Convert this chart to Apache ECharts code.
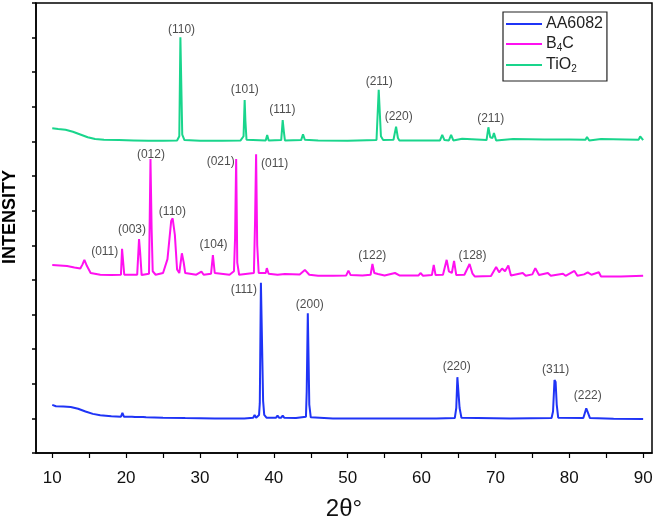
<!DOCTYPE html>
<html>
<head>
<meta charset="utf-8">
<script src="https://cdn.jsdelivr.net/npm/echarts@6/dist/echarts.min.js"></script>
<style>
  html, body { margin: 0; padding: 0; background: #fff; }
  #chart { width: 661px; height: 522px; }
</style>
</head>
<body>
<div id="chart"></div>
<script>
// 2θ (deg) / intensity (offset, arbitrary units) pairs
const aa6082 = [
  [10.0, 1.39], [10.5, 1.35], [11.5, 1.34], [12.5, 1.33], [13.5, 1.28], [14.5, 1.2], [15.5, 1.13],
  [16.5, 1.09], [18, 1.06], [19.3, 1.05], [19.5, 1.16], [19.7, 1.05], [20.8, 1.05], [21.0, 1.09],
  [21.2, 1.04], [22.3, 1.04], [22.5, 1.07], [22.7, 1.03], [25, 1.02], [28, 1.01], [32, 1.0], [36, 1.0],
  [37.2, 1.02], [37.4, 1.1], [37.6, 1.02], [38.0, 1.1], [38.1, 1.44], [38.25, 4.92], [38.45, 4.9],
  [38.55, 1.5], [38.7, 1.1], [39.0, 1.02], [40.3, 1.02], [40.5, 1.08], [40.7, 1.02], [41.0, 1.02],
  [41.2, 1.08], [41.4, 1.02], [43, 1.01], [44.35, 1.05], [44.45, 1.77], [44.6, 4.04], [44.7, 2.77],
  [44.8, 1.4], [45.0, 1.03], [48, 1.0], [55, 1.0], [62, 1.0], [64.5, 1.01], [64.7, 1.3], [64.85, 2.19],
  [65.0, 2.15], [65.15, 1.3], [65.4, 1.02], [72, 1.0], [77.6, 1.01], [77.8, 1.2], [78.0, 2.11],
  [78.15, 2.05], [78.3, 1.4], [78.5, 1.02], [81.9, 1.01], [82.1, 1.15], [82.3, 1.29], [82.5, 1.18],
  [82.8, 1.01], [86, 0.99], [90.0, 0.98]
]

const b4c = [
  [10.0, 5.43], [11, 5.42], [12, 5.40], [13, 5.36], [13.8, 5.33], [14.1, 5.45], [14.35, 5.58], [14.7, 5.4],
  [15.2, 5.2], [16.5, 5.15], [18, 5.14], [19.3, 5.15], [19.45, 5.9], [19.6, 5.85], [19.75, 5.15],
  [21.5, 5.15], [21.75, 6.18], [21.9, 5.8], [22.1, 5.14], [23.1, 5.18], [23.3, 8.49], [23.45, 6.5],
  [23.6, 5.25], [24, 5.15], [25.0, 5.2], [25.6, 5.6], [26.1, 6.7], [26.3, 6.78], [26.6, 6.3], [26.9, 5.3],
  [27.2, 5.2], [27.55, 5.77], [27.8, 5.5], [28.0, 5.2], [29.5, 5.15], [30.2, 5.24], [30.5, 5.15],
  [31.5, 5.18], [31.75, 5.72], [32.0, 5.2], [34.0, 5.15], [34.6, 5.25], [34.75, 6.2], [34.9, 8.49],
  [35.05, 5.5], [35.3, 5.15], [37.3, 5.2], [37.45, 6.6], [37.6, 8.63], [37.75, 6.0], [37.95, 5.2],
  [38.9, 5.2], [39.05, 5.34], [39.3, 5.18], [40.5, 5.15], [41.5, 5.17], [43.5, 5.16], [44.2, 5.29],
  [44.8, 5.15], [46, 5.12], [48, 5.12], [49.8, 5.13], [50.1, 5.27], [50.4, 5.14], [52, 5.13],
  [53.1, 5.15], [53.35, 5.46], [53.6, 5.2], [54.1, 5.17], [55, 5.13], [56.4, 5.2], [57, 5.13],
  [59.6, 5.13], [59.85, 5.2], [60.2, 5.12], [61.4, 5.14], [61.65, 5.43], [61.9, 5.14], [62.9, 5.15],
  [63.4, 5.58], [63.7, 5.25], [64.1, 5.2], [64.4, 5.55], [64.7, 5.14], [65.8, 5.15], [66.5, 5.46],
  [66.9, 5.18], [67.2, 5.1], [69.4, 5.11], [70.1, 5.37], [70.5, 5.22], [70.9, 5.33], [71.3, 5.25],
  [71.75, 5.42], [72.1, 5.13], [73.7, 5.2], [74.1, 5.12], [75.0, 5.16], [75.4, 5.34], [75.9, 5.14],
  [77.1, 5.2], [77.5, 5.12], [79.15, 5.18], [79.5, 5.12], [80.7, 5.26], [81.1, 5.12], [82.0, 5.16],
  [82.5, 5.22], [83.0, 5.15], [84.0, 5.22], [84.3, 5.1], [87, 5.1], [90.0, 5.12]
]

const tio2 = [
  [10.0, 9.38], [10.8, 9.36], [11.8, 9.34], [12.8, 9.28], [13.8, 9.2], [14.8, 9.12], [15.8, 9.07],
  [17, 9.05], [19, 9.04], [21, 9.03], [23, 9.02], [25, 9.02], [26.9, 9.03], [27.2, 9.15], [27.35, 12.01],
  [27.5, 12.0], [27.6, 9.2], [27.9, 9.04], [30, 9.02], [33, 9.02], [35.5, 9.03], [35.9, 9.15],
  [36.05, 10.2], [36.15, 9.6], [36.3, 9.05], [38.9, 9.03], [39.1, 9.19], [39.3, 9.03], [41.0, 9.04],
  [41.2, 9.62], [41.35, 9.3], [41.5, 9.03], [43.7, 9.04], [43.95, 9.21], [44.2, 9.05], [46, 9.03],
  [50, 9.02], [53.9, 9.04], [54.2, 10.49], [54.35, 10.45], [54.5, 9.15], [54.8, 9.04], [56.2, 9.05],
  [56.55, 9.43], [56.8, 9.1], [57.0, 9.03], [62.5, 9.03], [62.8, 9.19], [63.1, 9.04], [63.7, 9.03],
  [64.0, 9.19], [64.3, 9.03], [65.5, 9.08], [65.7, 9.03], [68.8, 9.04], [69.05, 9.41], [69.3, 9.12],
  [69.6, 9.1], [69.8, 9.24], [70.1, 9.03], [72.4, 9.07], [72.6, 9.02], [76.6, 9.06], [76.8, 9.02],
  [80.0, 9.06], [80.2, 9.02], [82.2, 9.05], [82.4, 9.13], [82.7, 9.03], [84.3, 9.07], [84.5, 9.02],
  [87.6, 9.06], [87.8, 9.02], [89.4, 9.05], [89.6, 9.15], [90.0, 9.04]
]

// Miller index labels: text, 2θ, intensity (label centre)
const peakText = ['(110)', '(101)', '(111)', '(211)', '(220)', '(211)',
  '(012)', '(021)', '(011)', '(110)', '(003)', '(011)', '(104)', '(122)', '(128)',
  '(111)', '(200)', '(220)', '(311)', '(222)']
const peakX = [27.5, 36.07, 41.15, 54.27, 56.9, 69.37,
  23.36, 32.8, 40.1, 26.27, 20.8, 17.1, 31.84, 53.33, 66.9,
  35.94, 44.87, 64.76, 78.15, 82.5]
const peakY = [12.22, 10.49, 9.91, 10.72, 9.71, 9.66,
  8.62, 8.42, 8.35, 6.97, 6.45, 5.82, 6.01, 5.71, 5.71,
  4.71, 4.29, 2.49, 2.41, 1.65]

const xLabelTicks = [10, 20, 30, 40, 50, 60, 70, 80, 90]
const xTicks = [10, 15, 20, 25, 30, 35, 40, 45, 50, 55, 60, 65, 70, 75, 80, 85, 90]

const FONT = '"Liberation Sans", Arial, sans-serif'
const BLUE = '#1f34f6'
const MAGENTA = '#ff10f0'
const GREEN = '#19d58c'

const chart = echarts.init(document.getElementById('chart'), null, { renderer: 'canvas' })

const lineSeries = (name, data, color) => ({
  name,
  type: 'line',
  data,
  symbol: 'none',
  showSymbol: false,
  color,
  lineStyle: { color, width: 2 },
  z: 3
})

chart.setOption({
  animation: false,
  backgroundColor: '#fff',
  textStyle: { fontFamily: FONT },
  grid: {
    left: 36,
    right: 9,
    top: 3,
    bottom: 69,
    show: true,
    borderColor: '#000',
    borderWidth: 1.5,
    containLabel: false,
    outerBoundsMode: 'none'
  },
  legend: {
    data: ['AA6082', 'B4C', 'TiO2'],
    orient: 'vertical',
    left: 503,
    top: 12,
    padding: [4, 4, 7, 3],
    itemGap: 4,
    itemWidth: 36,
    itemHeight: 2,
    icon: 'rect',
    borderColor: '#222',
    borderWidth: 1.2,
    backgroundColor: '#fff',
    formatter: (name) => {
      if (name === 'B4C') return '{n|B}{s|4}{n|C}'
      if (name === 'TiO2') return '{n|TiO}{s|2}'
      return '{n|' + name + '}'
    },
    textStyle: {
      color: '#222',
      fontFamily: FONT,
      fontSize: 16,
      padding: [0, 0, 0, -1],
      rich: {
        n: { fontSize: 16, fontFamily: FONT, color: '#222', lineHeight: 18 },
        s: { fontSize: 10, fontFamily: FONT, color: '#222', verticalAlign: 'bottom', lineHeight: 10 }
      }
    }
  },
  graphic: [{
    type: 'text',
    x: 10,
    y: 217,
    rotation: Math.PI / 2,
    style: {
      text: 'INTENSITY',
      fontFamily: FONT,
      fontSize: 18,
      fontWeight: 'bold',
      fill: '#000',
      align: 'center',
      verticalAlign: 'middle'
    }
  }],
  xAxis: {
    type: 'value',
    min: 7.8,
    max: 91.2,
    name: '2θ°',
    nameLocation: 'middle',
    nameGap: 46,
    nameTextStyle: { fontSize: 24, fontFamily: FONT, color: '#111', lineHeight: 20 },
    splitLine: { show: false },
    axisLine: { show: true, onZero: false, lineStyle: { color: '#000', width: 1.5 } },
    axisTick: { show: true, inside: false, length: 5, customValues: xTicks, lineStyle: { color: '#000', width: 1.2 } },
    axisLabel: { show: true, customValues: xLabelTicks, margin: 17, fontSize: 17, color: '#111', fontFamily: FONT }
  },
  yAxis: {
    type: 'value',
    min: 0,
    max: 13,
    interval: 1,
    splitLine: { show: false },
    axisLine: { show: true, lineStyle: { color: '#000', width: 1.5 } },
    axisTick: { show: true, inside: false, length: 4, lineStyle: { color: '#000', width: 1.5 } },
    axisLabel: { show: false }
  },
  series: [
    lineSeries('AA6082', aa6082, BLUE),
    lineSeries('B4C', b4c, MAGENTA),
    lineSeries('TiO2', tio2, GREEN),
    {
      name: 'peaks',
      type: 'scatter',
      symbolSize: 0,
      silent: true,
      z: 5,
      data: peakText.map((t, i) => ({ name: t, value: [peakX[i], peakY[i]] })),
      label: {
        show: true,
        position: 'inside',
        formatter: (p) => p.name,
        fontSize: 12,
        color: '#222',
        fontFamily: FONT
      }
    }
  ]
})
</script>
</body>
</html>
